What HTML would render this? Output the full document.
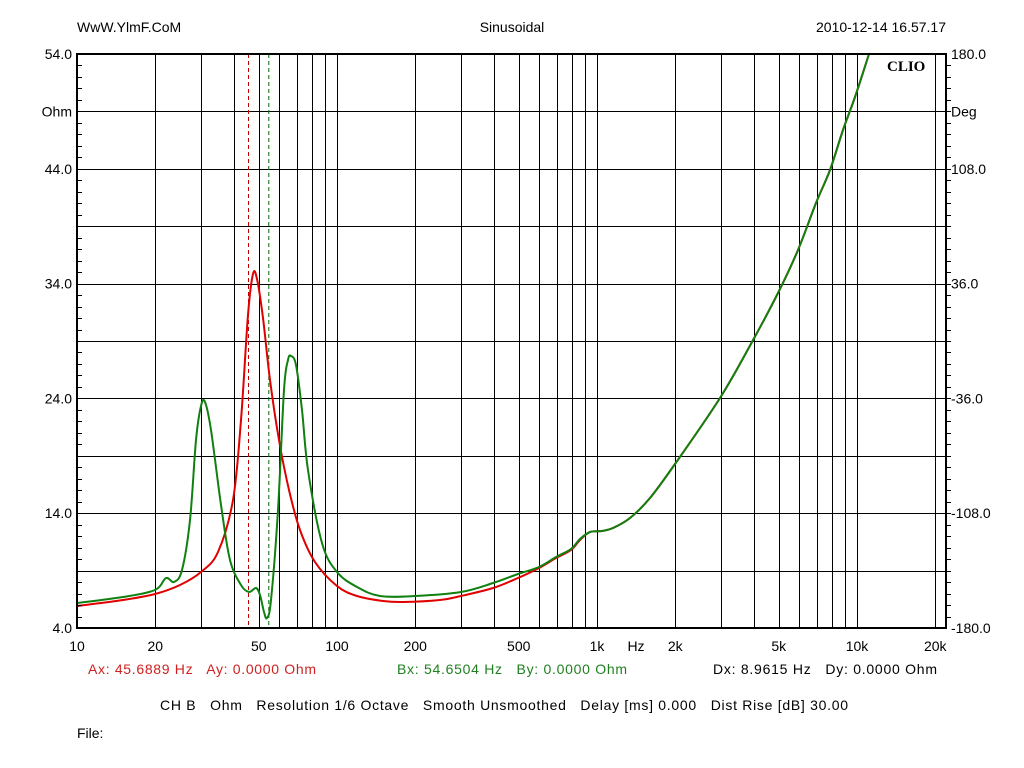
<!DOCTYPE html>
<html><head><meta charset="utf-8"><style>
body{margin:0;background:#fff;}
svg{display:block;font-family:"Liberation Sans",Arial,sans-serif;font-size:14px;}
</style></head><body>
<svg id="s" width="1024" height="768" xmlns="http://www.w3.org/2000/svg">
<rect width="1024" height="768" fill="#fff"/>
<g id="grid" stroke="#000" stroke-width="1"></g>
<line x1="248.5" y1="54" x2="248.5" y2="628" stroke="#c00000" stroke-dasharray="4,3"/>
<line x1="268.8" y1="54" x2="268.8" y2="628" stroke="#007000" stroke-dasharray="4,3"/>
<path id="red" fill="none" stroke="#e00000" stroke-width="2"/>
<path id="green" fill="none" stroke="#108010" stroke-width="2"/>
<rect x="77" y="54" width="869" height="574" fill="none" stroke="#000" stroke-width="2"/>
<g id="ticks" stroke="#000"></g>
<g id="lbl" fill="#000"></g>
<text x="887" y="71" font-family="Liberation Serif,serif" font-weight="bold" font-size="15">CLIO</text>
<text x="77" y="32">WwW.YlmF.CoM</text>
<text x="512" y="32" text-anchor="middle">Sinusoidal</text>
<text x="946" y="32" text-anchor="end">2010-12-14 16.57.17</text>
<text x="88" y="674" fill="#d02020" xml:space="preserve" textLength="228">Ax: 45.6889 Hz   Ay: 0.0000 Ohm</text>
<text x="397" y="674" fill="#208020" xml:space="preserve" textLength="230">Bx: 54.6504 Hz   By: 0.0000 Ohm</text>
<text x="713" y="674" xml:space="preserve" textLength="224">Dx: 8.9615 Hz   Dy: 0.0000 Ohm</text>
<text x="160" y="710" xml:space="preserve" textLength="688">CH B   Ohm   Resolution 1/6 Octave   Smooth Unsmoothed   Delay [ms] 0.000   Dist Rise [dB] 30.00</text>
<text x="77" y="738">File:</text>
</svg>
<script>
var ns="http://www.w3.org/2000/svg";
function el(p,t,a,txt){var e=document.createElementNS(ns,t);for(var k in a)e.setAttribute(k,a[k]);if(txt!=null)e.textContent=txt;document.getElementById(p).appendChild(e);}
function X(f){return 77+260*Math.log10(f/10);}
var fs=[];[10,100,1000,10000].forEach(function(d){for(var i=1;i<10;i++){var f=d*i;if(f>10&&f<=20000)fs.push(f);}});
fs.forEach(function(f){var x=Math.round(X(f))+.5;el("grid","line",{x1:x,y1:54,x2:x,y2:628});});
for(var i=1;i<10;i++){var y=Math.round(54+i*57.4)+.5;el("grid","line",{x1:77,y1:y,x2:946,y2:y});}
for(var i=1;i<50;i++){var y=Math.round(54+i*11.48)+.5;el("ticks","line",{x1:77,y1:y,x2:82,y2:y});el("ticks","line",{x1:946,y1:y,x2:951,y2:y});}
var L=["54.0","","44.0","","34.0","","24.0","","14.0","","4.0"],R=["180.0","","108.0","","36.0","","-36.0","","-108.0","","-180.0"];
for(var i=0;i<=10;i++){var y=54+i*57.4+5;var l=L[i],r=R[i];if(i==1){l="Ohm";r="Deg";}if(l)el("lbl","text",{x:72,y:y,"text-anchor":"end"},l);if(r)el("lbl","text",{x:951,y:y},r);}
[[10,"10"],[20,"20"],[50,"50"],[100,"100"],[200,"200"],[500,"500"],[1000,"1k"],[2000,"2k"],[5000,"5k"],[10000,"10k"],[20000,"20k"]].forEach(function(a){el("lbl","text",{x:X(a[0]),y:651,"text-anchor":"middle"},a[1]);});
el("lbl","text",{x:636,y:651,"text-anchor":"middle"},"Hz");
var tail=[[590,532],[602,531],[613,528],[630,518],[650,498],[675,464],[720,398],[752,342],[778,293],[798,250],[816,203],[830,170],[843,130],[855,97],[869,54]];
var red=[[77,606],[123,600],[155,594],[180,585],[201,572],[218,552],[233,500],[241,420],[248,315],[253,274],[257,279],[263,318],[270,380],[279,440],[289,490],[300,530],[315,562],[337,586],[357,596],[383,601],[403,602],[440,600],[461,596],[493,588],[518,578],[539,568],[556,558],[571,550],[580,540]].concat(tail);
var green=[[77,603],[123,597],[155,590],[166,578],[174,582],[182,570],[190,520],[196,440],[201,406],[205,402],[211,430],[221,505],[230,560],[241,585],[249,592],[256,588],[260,595],[264,612],[267,618],[271,600],[278,510],[284,390],[288,360],[291,356],[296,365],[302,410],[308,470],[322,543],[337,572],[357,587],[380,596],[415,596],[461,592],[493,583],[518,574],[539,567],[556,557],[571,549],[580,539]].concat(tail);
function cr(p){var d="M"+p[0][0]+","+p[0][1];for(var i=0;i<p.length-1;i++){var a=p[i-1]||p[i],b=p[i],c=p[i+1],e=p[i+2]||c;d+=" C"+(b[0]+(c[0]-a[0])/6)+","+(b[1]+(c[1]-a[1])/6)+" "+(c[0]-(e[0]-b[0])/6)+","+(c[1]-(e[1]-b[1])/6)+" "+c[0]+","+c[1];}return d;}
document.getElementById("red").setAttribute("d",cr(red));
document.getElementById("green").setAttribute("d",cr(green));
</script>
</body></html>
